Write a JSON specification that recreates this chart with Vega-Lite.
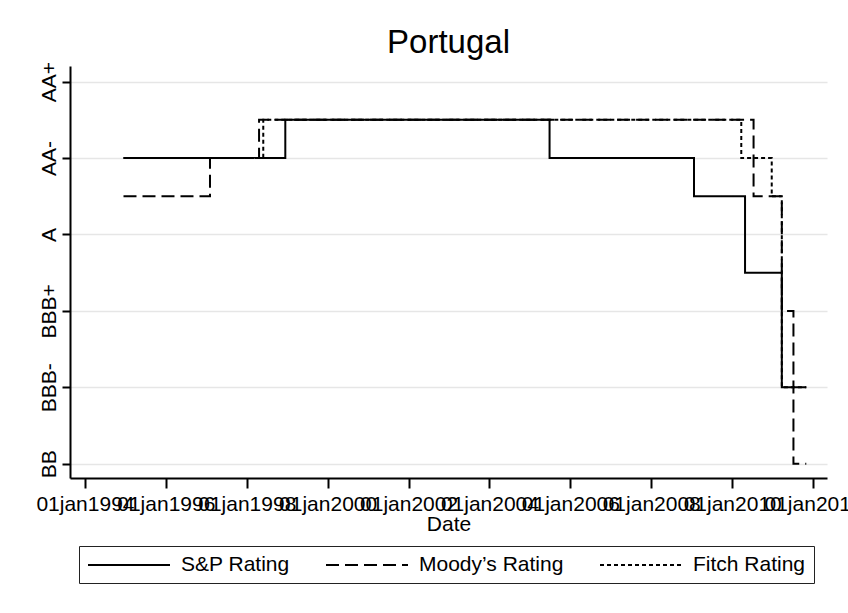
{
  "$schema": "https://vega.github.io/schema/vega-lite/v6.json",
  "width": 757,
  "height": 412,
  "autosize": {"type": "none"},
  "padding": {"left": 70, "top": 66, "right": 21, "bottom": 135},
  "background": "white",
  "title": {"text": "Portugal", "fontSize": 33, "font": "Liberation Sans", "fontWeight": "normal", "color": "#000", "anchor": "middle", "offset": 2},
  "config": {"view": {"stroke": null}, "font": "Liberation Sans"},
  "data": {"values": [
    {"agency": "S&P Rating", "date": "1994-12-15", "rating": 9},
    {"agency": "S&P Rating", "date": "1998-12-15", "rating": 10},
    {"agency": "S&P Rating", "date": "2005-06-27", "rating": 9},
    {"agency": "S&P Rating", "date": "2009-01-21", "rating": 8},
    {"agency": "S&P Rating", "date": "2010-04-27", "rating": 6},
    {"agency": "S&P Rating", "date": "2011-03-25", "rating": 3},
    {"agency": "S&P Rating", "date": "2011-11-01", "rating": 3},
    {"agency": "Moody’s Rating", "date": "1994-12-15", "rating": 8},
    {"agency": "Moody’s Rating", "date": "1997-02-03", "rating": 9},
    {"agency": "Moody’s Rating", "date": "1998-04-22", "rating": 10},
    {"agency": "Moody’s Rating", "date": "2010-07-13", "rating": 8},
    {"agency": "Moody’s Rating", "date": "2011-03-25", "rating": 5},
    {"agency": "Moody’s Rating", "date": "2011-07-08", "rating": 1},
    {"agency": "Moody’s Rating", "date": "2011-11-01", "rating": 1},
    {"agency": "Fitch Rating", "date": "1994-12-15", "rating": 9},
    {"agency": "Fitch Rating", "date": "1998-05-30", "rating": 10},
    {"agency": "Fitch Rating", "date": "2010-03-24", "rating": 9},
    {"agency": "Fitch Rating", "date": "2010-12-24", "rating": 8},
    {"agency": "Fitch Rating", "date": "2011-03-25", "rating": 3},
    {"agency": "Fitch Rating", "date": "2011-11-01", "rating": 3}
  ]},
  "mark": {"type": "line", "interpolate": "step-after", "strokeWidth": 2, "color": "#000"},
  "encoding": {
    "x": {
      "field": "date", "type": "temporal",
      "scale": {"domain": [{"year": 1993, "month": 8, "date": 19}, {"year": 2012, "month": 5, "date": 6}], "nice": false},
      "axis": {
        "values": [
          {"year": 1994, "month": 1, "date": 1}, {"year": 1996, "month": 1, "date": 1},
          {"year": 1998, "month": 1, "date": 1}, {"year": 2000, "month": 1, "date": 1},
          {"year": 2002, "month": 1, "date": 1}, {"year": 2004, "month": 1, "date": 1},
          {"year": 2006, "month": 1, "date": 1}, {"year": 2008, "month": 1, "date": 1},
          {"year": 2010, "month": 1, "date": 1}, {"year": 2012, "month": 1, "date": 1}
        ],
        "labelExpr": "lower(timeFormat(datum.value, '%d%b%Y'))",
        "labelFontSize": 21, "labelColor": "#000", "labelOverlap": false, "labelFlush": false, "labelBound": false,
        "labelBaseline": "alphabetic", "labelPadding": 22, "labelAngle": 0,
        "tickSize": 10, "tickWidth": 2, "tickColor": "#000",
        "domainWidth": 2, "domainColor": "#000",
        "grid": false,
        "title": "Date", "titleFontSize": 21, "titleFontWeight": "normal", "titleColor": "#000",
        "titleBaseline": "alphabetic", "titleY": 52
      }
    },
    "y": {
      "field": "rating", "type": "quantitative",
      "scale": {"domain": [0.626, 11.41], "nice": false, "zero": false},
      "axis": {
        "values": [1, 3, 5, 7, 9, 11],
        "labelExpr": "datum.value == 11 ? 'AA+' : datum.value == 9 ? 'AA-' : datum.value == 7 ? 'A' : datum.value == 5 ? 'BBB+' : datum.value == 3 ? 'BBB-' : 'BB'",
        "labelFontSize": 21, "labelColor": "#000", "labelAngle": -90, "labelAlign": "center", "labelBaseline": "alphabetic", "labelPadding": 7,
        "tickSize": 8, "tickWidth": 2, "tickColor": "#000",
        "domainWidth": 2, "domainColor": "#000",
        "grid": true, "gridColor": "#e6e6e6", "gridWidth": 1.5,
        "title": null
      }
    },
    "strokeDash": {
      "field": "agency", "type": "nominal",
      "scale": {"domain": ["S&P Rating", "Moody’s Rating", "Fitch Rating"], "range": [[1, 0], [13, 6], [4, 3]]},
      "legend": {
        "title": null, "orient": "none", "legendX": 9, "legendY": 480,
        "direction": "horizontal", "columns": 3, "columnPadding": 32,
        "symbolType": "M-1,0H7.2", "symbolSize": 400, "symbolStrokeWidth": 2, "symbolStrokeColor": "#000",
        "labelFontSize": 21, "labelColor": "#000", "labelOffset": 72, "labelLimit": 300,
        "strokeColor": "#222", "padding": 8, "fillColor": "white"
      }
    }
  }
}
